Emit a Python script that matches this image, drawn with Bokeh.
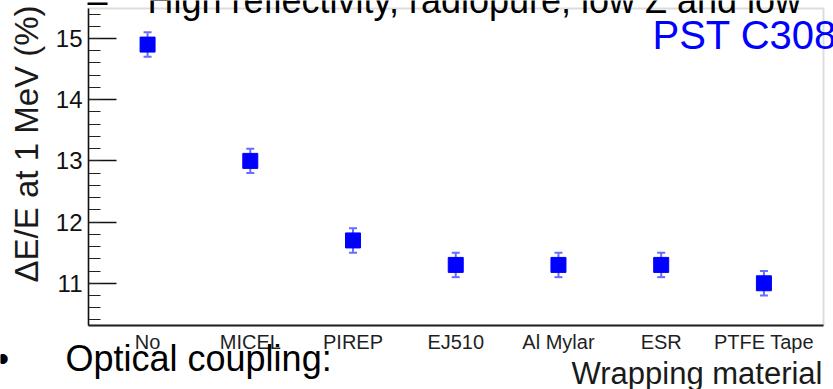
import math
from bokeh.plotting import figure
from bokeh.models import (Range1d, ColumnDataSource, Whisker, TeeHead, Label,
                          FixedTicker, SingleIntervalTicker, LinearAxis, BoxAnnotation)
from bokeh.embed import file_html
from bokeh.resources import INLINE

# ---- data ----
materials = ["No", "MICEL", "PIREP", "EJ510", "Al Mylar", "ESR", "PTFE Tape"]
resolution = [14.9, 13.0, 11.7, 11.3, 11.3, 11.3, 11.0]
errors = [0.2, 0.2, 0.2, 0.2, 0.2, 0.2, 0.2]
y_tick_interval = 1

# ---- layout (plot box inside the canvas, in pixels) ----
W, H = 833, 389
FL, FR, FT, FB = 88, 823, 8, 325
X0, X1 = -0.575, 6.58     # data range spanned by the plot box
Y0, Y1 = 10.31, 15.49
SX = (X1 - X0) / (FR - FL)
SY = (Y1 - Y0) / (FB - FT)


def dx(px):
    return X0 + (px - FL) * SX


def dy(py):
    return Y1 - (py - FT) * SY


xs = list(range(len(materials)))
src = ColumnDataSource(dict(
    x=xs,
    y=resolution,
    upper=[v + e for v, e in zip(resolution, errors)],
    lower=[v - e for v, e in zip(resolution, errors)],
))

# frame covers the full canvas; axes are pinned at the plot box edges
p = figure(width=W, height=H,
           x_range=Range1d(dx(0), dx(W)), y_range=Range1d(dy(H), dy(0)),
           x_axis_type=None, y_axis_type=None,
           output_backend="svg", toolbar_location=None,
           min_border=0)
p.grid.visible = False
p.background_fill_color = "white"
p.border_fill_color = "white"
p.outline_line_color = None

FONT = "Liberation Sans"

# plot box outline (gray, ROOT pad frame)
p.add_layout(BoxAnnotation(left=X0, right=X1, bottom=Y0, top=Y1,
                           fill_color=None, line_color="#8a8a8a", line_width=2,
                           level="underlay"))

# y axis
ya = LinearAxis(fixed_location=X0, bounds=(Y0, Y1))
ya.ticker = SingleIntervalTicker(interval=y_tick_interval, num_minor_ticks=5)
ya.major_tick_in = 28
ya.major_tick_out = 0
ya.minor_tick_in = 12
ya.minor_tick_out = 0
ya.major_tick_line_width = 1.5
ya.minor_tick_line_width = 1.2
ya.major_tick_line_color = "#111111"
ya.minor_tick_line_color = "#222222"
ya.axis_line_color = "#111111"
ya.axis_line_width = 1.5
ya.major_label_standoff = 6
ya.major_label_text_font = FONT
ya.major_label_text_font_size = "24px"
ya.major_label_text_color = "#111111"
p.add_layout(ya, "left")

# x axis
xa = LinearAxis(fixed_location=Y0, bounds=(X0, X1))
xa.ticker = FixedTicker(ticks=xs)
xa.major_label_overrides = {i: m for i, m in zip(xs, materials)}
xa.major_tick_in = 0
xa.major_tick_out = 0
xa.minor_tick_in = 0
xa.minor_tick_out = 0
xa.major_tick_line_color = None
xa.minor_tick_line_color = None
xa.axis_line_color = "#222222"
xa.axis_line_width = 2
xa.major_label_standoff = 5
xa.major_label_text_font = FONT
xa.major_label_text_font_size = "20px"
xa.major_label_text_color = "#1f1f1f"
p.add_layout(xa, "below")

# error bars
wh = Whisker(base="x", upper="upper", lower="lower", source=src, dimension="height",
             line_color="#6b6bff", line_width=2,
             upper_head=TeeHead(size=8, line_color="#6b6bff", line_width=2),
             lower_head=TeeHead(size=8, line_color="#6b6bff", line_width=2))
p.add_layout(wh)

# markers
p.scatter("x", "y", source=src, marker="square", size=15,
          fill_color="#0000ff", line_color="#0000ff")


# ---- texts ----
def lab(text, px, py, size, color="black", align="left", angle=0.0):
    # py = wanted baseline (pixels from top)
    p.add_layout(Label(x=dx(px), y=dy(py - 0.347 * size), text=text, text_font=FONT,
                       text_font_size=f"{size}px", text_color=color,
                       text_align=align, text_baseline="alphabetic", angle=angle))


# y-axis title (ROOT style, right aligned at the top)
p.add_layout(Label(x=dx(26), y=dy(5), text="\u0394E/E at 1 MeV (%)", text_font=FONT,
                   text_font_size="33px", text_color="#1a1a1a",
                   text_align="right", text_baseline="middle", angle=math.pi / 2))
# x-axis title
lab("Wrapping material", 822, 384, 31, color="#1a1a1a", align="right")
# slide texts overlapping the plot
lab("High reflectivity, radiopure, low Z and low", 147, 12, 36)
lab("\u2013", 87, 12, 36)
lab("PST C308", 652, 48, 40, color="#0000ff")
lab("Optical coupling:", 65, 370, 36)
lab("\u2022", -4, 370, 36)

open("out.html", "w").write(file_html(p, INLINE))
